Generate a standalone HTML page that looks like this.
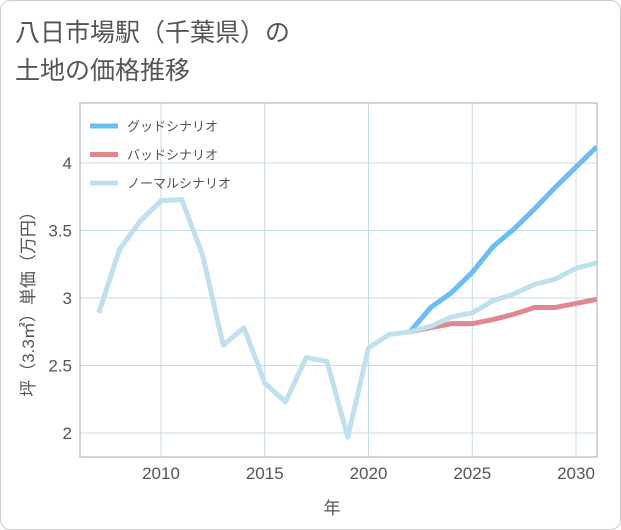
<!DOCTYPE html>
<html><head><meta charset="utf-8"><style>
body{margin:0;background:#fff;}
#card{position:absolute;left:0;top:0;width:619px;height:528px;border:1px solid #ccc;border-radius:10px;background:#fff;font-family:"Liberation Sans","Noto Sans CJK JP",sans-serif;}
#title{position:absolute;left:14px;top:13px;font-size:25px;line-height:38px;color:#555;}
svg text{font-family:"Liberation Sans","Noto Sans CJK JP",sans-serif;}
</style></head><body>
<div id="card">
<div id="title">八日市場駅（千葉県）の<br>土地の価格推移</div>
<svg id="chart" width="621" height="530" style="position:absolute;left:-1px;top:-1px"></svg>
</div>
<script>
const years=[2007,2008,2009,2010,2011,2012,2013,2014,2015,2016,2017,2018,2019,2020,2021,2022,2023,2024,2025,2026,2027,2028,2029,2030,2031];
const normalVals=[2.89,3.36,3.57,3.72,3.73,3.32,2.65,2.78,2.37,2.23,2.56,2.53,1.97,2.63,2.73,2.75,2.79,2.86,2.89,2.98,3.03,3.10,3.14,3.22,3.26];
const forecastYears=[2022,2023,2024,2025,2026,2027,2028,2029,2030,2031];
const goodVals=[2.75,2.93,3.04,3.19,3.38,3.51,3.66,3.82,3.97,4.12];
const badVals=[2.75,2.78,2.81,2.81,2.84,2.88,2.93,2.93,2.96,2.99];
const xTicks=[2010,2015,2020,2025,2030];
const yTicks=[2,2.5,3,3.5,4];
const L=80,R=597,T=103,B=457;
const xs=y=>161+(y-2010)*20.75;
const ys=v=>433-(v-2)*135;
const svg=document.getElementById('chart');
const NS='http://www.w3.org/2000/svg';
function mk(t,a){const e=document.createElementNS(NS,t);for(const k in a)e.setAttribute(k,a[k]);svg.appendChild(e);return e;}
xTicks.forEach(t=>{const l=mk('line',{x1:xs(t),x2:xs(t),y1:T,y2:B,stroke:'#c5dbe8','stroke-width':1});


const tx=mk('text',{x:xs(t),y:479,'text-anchor':'middle','font-size':17,fill:'#555'});tx.textContent=t;

});
yTicks.forEach(t=>{const l=mk('line',{x1:L,x2:R,y1:ys(t),y2:ys(t),stroke:'#c5dbe8','stroke-width':1});


const tx=mk('text',{x:72,y:ys(t)+6,'text-anchor':'end','font-size':17,fill:'#555'});tx.textContent=t;

});
const fr=mk('rect',{x:L,y:T,width:R-L,height:B-T,fill:'none',stroke:'#aab','stroke-width':1});


const defs=mk('clipPath',{id:'cp'});const cr=document.createElementNS(NS,'rect');cr.setAttribute('x',L);cr.setAttribute('y',T);cr.setAttribute('width',R-L);cr.setAttribute('height',B-T);defs.appendChild(cr);
function line(xv,yv,color,name){const p=mk('polyline',{points:xv.map((x,i)=>xs(x)+','+ys(yv[i])).join(' '),fill:'none',stroke:color,'stroke-width':5,'stroke-linejoin':'round','clip-path':'url(#cp)'});

}
line(forecastYears,goodVals,'#6bbef3','good-scenario-line');
line(forecastYears,badVals,'#e08890','bad-scenario-line');
line(years,normalVals,'#bfe0ec','normal-scenario-line');
const leg=[['グッドシナリオ','#6bbef3'],['バッドシナリオ','#e08890'],['ノーマルシナリオ','#bfe0ec']];
leg.forEach((e,i)=>{const y=126+i*28.5;const l=mk('line',{x1:90,x2:118,y1:y,y2:y,stroke:e[1],'stroke-width':5});


const t=mk('text',{x:127,y:y+5,'font-size':13,fill:'#555'});t.textContent=e[0];

});
const xt=mk('text',{x:332,y:514,'text-anchor':'middle','font-size':17,fill:'#555'});xt.textContent='年';


const yt=mk('text',{x:0,y:0,'text-anchor':'middle','font-size':17,fill:'#555',transform:'translate(34,300) rotate(-90)'});yt.textContent='坪（3.3㎡）単価（万円）';


</script>
</body></html>
